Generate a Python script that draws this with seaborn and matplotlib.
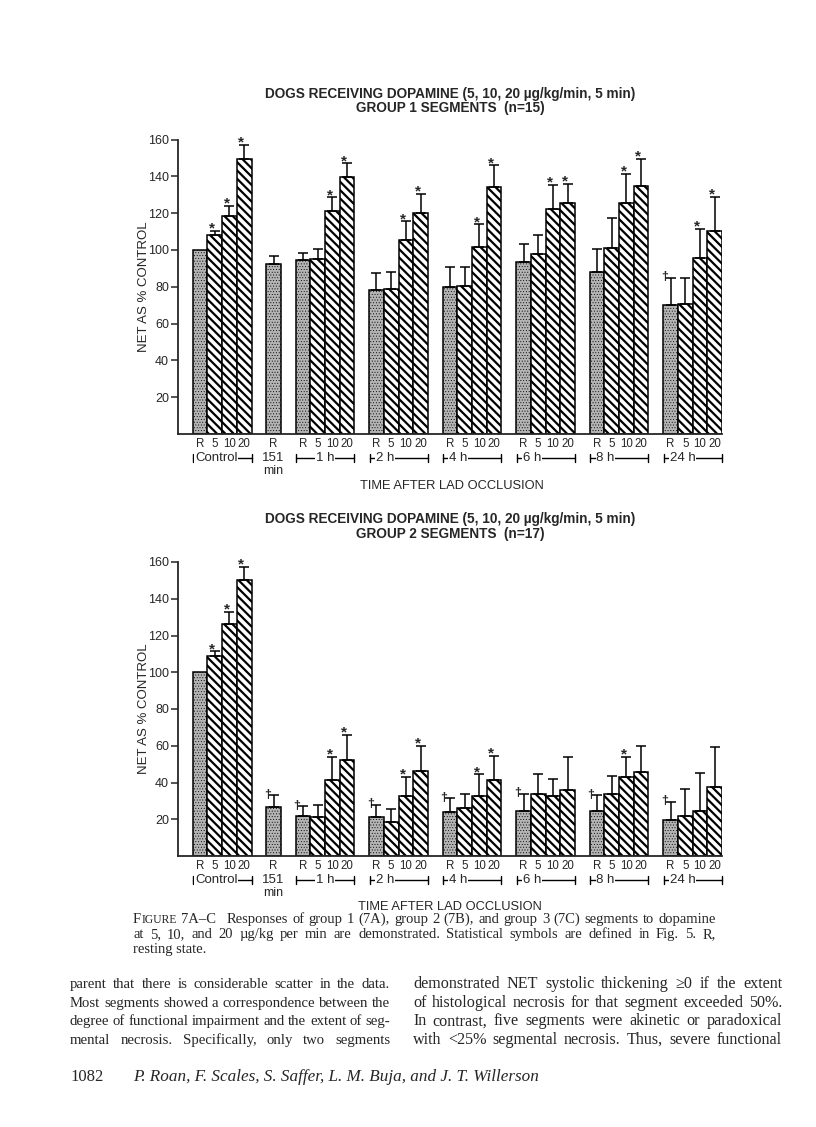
import numpy as np
import pandas as pd
import matplotlib
matplotlib.use("Agg")
import matplotlib.pyplot as plt
import matplotlib.transforms as mtransforms
import seaborn as sns

W, H = 816, 1127

# ── chart data ─────────────────────────────────────────────────────────────────
GROUPS = ["Control", "151", "1 h", "2 h", "4 h", "6 h", "8 h", "24 h"]
DOSES = ["R", "5", "10", "20"]

# group 1 segments (n=15): bar height and top of error bar, NET as % control
G1_MEAN = [100, 108, 118.5, 149.5,
           92.5,
           94.5, 95, 121, 139.5,
           78, 79, 105.5, 120,
           80, 80.5, 101.5, 134,
           93.5, 98, 122, 125.5,
           88, 101, 125.5, 134.5,
           70, 70.5, 95.5, 110.5]
G1_TOP = [np.nan, 110.5, 124, 157,
          96.5,
          98.5, 100.5, 128.5, 147,
          87.5, 88, 115.5, 130.5,
          90.5, 91, 114, 146,
          103, 108, 135.5, 136,
          100.5, 117.5, 141.5, 149.5,
          85, 84.5, 111.5, 129]
G1_MARK = ["", "*", "*", "*",
           "",
           "", "", "*", "*",
           "", "", "*", "*",
           "", "", "*", "*",
           "", "", "*", "*",
           "", "", "*", "*",
           "†", "", "*", "*"]

# group 2 segments (n=17)
G2_MEAN = [100, 109, 126.5, 150,
           26.5,
           21.5, 21, 41.5, 52.5,
           21, 18.5, 32.5, 46,
           24, 26, 32.5, 41.5,
           24.5, 33.5, 32.5, 36,
           24.5, 33.5, 43, 45.5,
           19.5, 21.5, 24.5, 37.5]
G2_TOP = [np.nan, 111.5, 133, 157.5,
          33,
          27, 28, 54, 66,
          28, 25.5, 43, 60,
          31.5, 34, 44.5, 54.5,
          34, 44.5, 42, 54,
          33, 43.5, 54, 60,
          29.5, 36.5, 45, 59.5]
G2_MARK = ["", "*", "*", "*",
           "†",
           "†", "", "*", "*",
           "†", "", "*", "*",
           "†", "", "*", "*",
           "†", "", "", "",
           "†", "", "*", "",
           "†", "", "", ""]

Y_TICKS = [20, 40, 60, 80, 100, 120, 140, 160]

TITLE_1 = "DOGS RECEIVING DOPAMINE (5, 10, 20 µg/kg/min, 5 min)"
SUBTITLE_A = "GROUP 1 SEGMENTS  (n=15)"
SUBTITLE_B = "GROUP 2 SEGMENTS  (n=17)"
X_TITLE = "TIME AFTER LAD OCCLUSION"

CAPTION = [
    "Responses of group 1 (7A), group 2 (7B), and group 3 (7C) segments to dopamine",
    "at 5, 10, and 20 µg/kg per min are demonstrated. Statistical symbols are defined in Fig. 5. R,",
    "resting state.",
]
LEFT_COL = [
    "parent that there is considerable scatter in the data.",
    "Most segments showed a correspondence between the",
    "degree of functional impairment and the extent of seg-",
    "mental necrosis. Specifically, only two segments",
]
RIGHT_COL = [
    "demonstrated NET systolic thickening ≥0 if the extent",
    "of histological necrosis for that segment exceeded 50%.",
    "In contrast, five segments were akinetic or paradoxical",
    "with <25% segmental necrosis. Thus, severe functional",
]
PAGE_NO = "1082"
AUTHORS = "P. Roan, F. Scales, S. Saffer, L. M. Buja, and J. T. Willerson"

# ── style ──────────────────────────────────────────────────────────────────────
sns.set_style("ticks")
SANS = ["Liberation Sans", "DejaVu Sans"]
SERIF = ["Liberation Serif", "DejaVu Serif"]
plt.rcParams["font.family"] = SANS
plt.rcParams["hatch.linewidth"] = 1.6
plt.rcParams["axes.linewidth"] = 1.3

ORDER = []
for i, g in enumerate(GROUPS):
    if i:
        ORDER.append(f"gap{i}")
    ORDER += [f"{g}|{d}" for d in (["R"] if g == "151" else DOSES)]


def bar_table(mean, top, mark):
    rows = []
    for g in GROUPS:
        for d in (["R"] if g == "151" else DOSES):
            rows.append({"slot": f"{g}|{d}", "dose": d,
                         "kind": "rest" if d == "R" else "dose"})
    df = pd.DataFrame(rows)
    df["mean"] = mean
    df["top"] = top
    df["mark"] = mark
    return df


def py(y_px):
    return 1 - y_px / H


def draw_panel(fig, ax, df, base_px):
    sns.barplot(data=df, x="slot", y="mean", hue="kind", order=ORDER,
                hue_order=["rest", "dose"],
                palette={"rest": "#b4b4b4", "dose": "white"},
                dodge=False, width=1.0, errorbar=None, edgecolor="black",
                linewidth=1.1, legend=False, ax=ax)
    # stippled resting bars: fine dots, thin hatch line
    for bar in ax.containers[0]:
        bar.set_hatch("......")
        if hasattr(bar, "set_hatch_linewidth"):
            bar.set_hatch_linewidth(0.35)
    for bar in ax.containers[1]:
        bar.set_hatch("\\\\\\\\")

    xs = np.array([ORDER.index(s) for s in df["slot"]])
    has = df["top"].notna().to_numpy()
    ax.errorbar(xs[has], df["mean"][has],
                yerr=[np.zeros(has.sum()), (df["top"] - df["mean"])[has]],
                fmt="none", ecolor="black", elinewidth=1.1, capsize=3.5,
                capthick=1.1, zorder=4)
    for xi, top, mean, m in zip(xs, df["top"], df["mean"], df["mark"]):
        if not m:
            continue
        yy = top if not np.isnan(top) else mean
        if m == "*":
            ax.annotate(m, (xi, yy), xytext=(-2, -3.5), textcoords="offset points",
                        ha="center", va="bottom", fontsize=11, fontweight="bold",
                        annotation_clip=False)
        else:
            ax.annotate(m, (xi, yy), xytext=(-4.5, -4), textcoords="offset points",
                        ha="center", va="bottom", fontsize=9, fontweight="bold",
                        annotation_clip=False)

    ax.set_xlim(-1.5, len(ORDER) - 0.5)
    ax.set_ylim(0, 160)
    ax.set_yticks(Y_TICKS)
    ax.set_yticklabels([str(v) for v in Y_TICKS], fontsize=9)
    ax.tick_params(axis="y", direction="out", length=5, width=1.1, pad=1.5)
    ax.set_xticks(xs, df["dose"].tolist())
    ax.tick_params(axis="x", length=0, pad=3, labelsize=8.3)
    ax.set_xlabel("")
    ax.set_ylabel("NET AS % CONTROL", fontsize=9.5)
    ax.yaxis.set_label_coords(-0.052, 0.5)
    sns.despine(ax=ax)

    # group brackets under the dose labels
    blend = mtransforms.blended_transform_factory(ax.transData, fig.dpi_scale_trans)
    row = (H - (base_px + 24)) / 100
    tick = 4 / 100
    for g in GROUPS:
        idx = [ORDER.index(f"{g}|{d}") for d in (["R"] if g == "151" else DOSES)]
        x0, x1 = idx[0] - 0.45, idx[-1] + 0.5
        if g == "151":
            ax.text(idx[0], row, "151", transform=blend, ha="center", va="center",
                    fontsize=9.5, clip_on=False)
            ax.text(idx[0], row - 13 / 100, "min", transform=blend, ha="center",
                    va="center", fontsize=9, clip_on=False)
            continue
        ax.plot([x0, x1], [row, row], transform=blend, color="black", lw=1,
                clip_on=False)
        for xe in (x0, x1):
            ax.plot([xe, xe], [row - tick, row + tick], transform=blend,
                    color="black", lw=1, clip_on=False)
        if g == "Control":
            xt, ha = x0 + 0.1, "left"
        elif g == "1 h":
            xt, ha = (x0 + x1) / 2, "center"
        else:
            xt, ha = x0 + 0.4, "left"
        ax.text(xt, row, g, transform=blend, ha=ha, va="center", fontsize=9.5,
                clip_on=False,
                bbox=dict(facecolor="white", edgecolor="none", pad=0.6))


def justify(fig, line, x0, x1, y, **kw):
    r = fig.canvas.get_renderer()
    words = line.split()
    ts = [fig.text(0, py(y), w, va="baseline", **kw) for w in words]
    ws = [t.get_window_extent(r).width for t in ts]
    gap = (x1 - x0 - sum(ws)) / max(len(ws) - 1, 1)
    x = x0
    for t, w in zip(ts, ws):
        t.set_x(x / W)
        x += w + gap


fig = plt.figure(figsize=(W / 100, H / 100), dpi=100)
x_left, x_right = 178, 722

top_base, top_top = 434, 139.5
ax1 = fig.add_axes([x_left / W, py(top_base), (x_right - x_left) / W,
                    (top_base - top_top) / H])
draw_panel(fig, ax1, bar_table(G1_MEAN, G1_TOP, G1_MARK), top_base)

bot_base, bot_top = 856, 562
ax2 = fig.add_axes([x_left / W, py(bot_base), (x_right - x_left) / W,
                    (bot_base - bot_top) / H])
draw_panel(fig, ax2, bar_table(G2_MEAN, G2_TOP, G2_MARK), bot_base)

# titles
cx = 450 / W
for y, s in [(94, TITLE_1), (108, SUBTITLE_A), (519, TITLE_1), (534, SUBTITLE_B)]:
    fig.text(cx, py(y), s, ha="center", va="center", fontsize=9.8, fontweight="bold")
fig.text(452 / W, py(486), X_TITLE, ha="center", va="center", fontsize=9.3)
fig.text(450 / W, py(907), X_TITLE, ha="center", va="center", fontsize=9.3)

# caption
r = fig.canvas.get_renderer()
cap_kw = dict(family=SERIF, fontsize=10.5)
x = 133
t = fig.text(x / W, py(923), "F", va="baseline", **cap_kw)
x += t.get_window_extent(r).width
t = fig.text(x / W, py(923), "IGURE", va="baseline", family=SERIF, fontsize=8.4)
x += t.get_window_extent(r).width + 4
t = fig.text(x / W, py(923), "7A–C", va="baseline", **cap_kw)
x += t.get_window_extent(r).width + 11
justify(fig, CAPTION[0], x, 716, 923, **cap_kw)
justify(fig, CAPTION[1], 133, 716, 938, **cap_kw)
fig.text(133 / W, py(953), CAPTION[2], va="baseline", **cap_kw)

# body text
for i, (ln, rn) in enumerate(zip(LEFT_COL, RIGHT_COL)):
    y = 988 + i * 18.7
    justify(fig, ln, 70, 390, y, family=SERIF, fontsize=10.6)
    justify(fig, rn, 413, 782, y, family=SERIF, fontsize=11.6)

fig.text(70 / W, py(1081), PAGE_NO, va="baseline", family=SERIF, fontsize=12)
fig.text(133 / W, py(1081), AUTHORS, va="baseline", family=SERIF, fontsize=12.3,
         style="italic")

fig.savefig("out.png", dpi=100)
